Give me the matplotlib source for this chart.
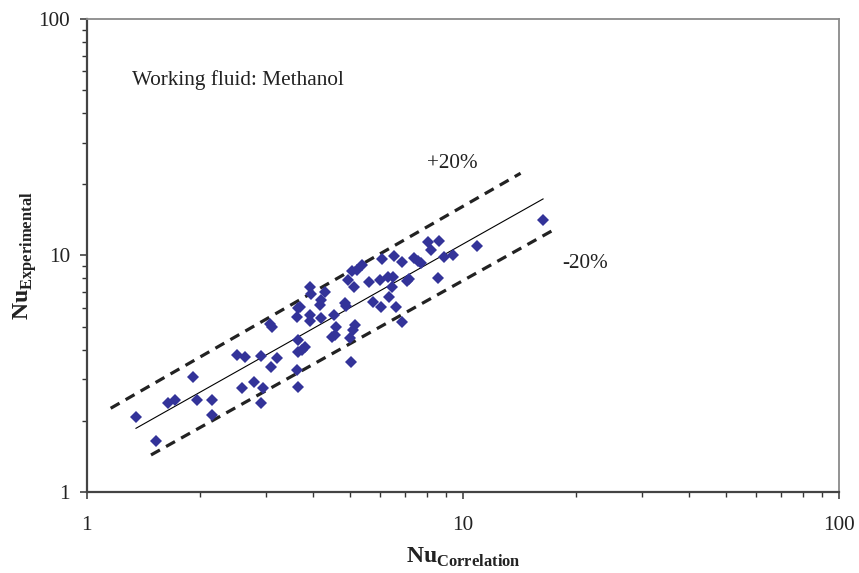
import matplotlib
matplotlib.use("Agg")
import matplotlib.pyplot as plt
from matplotlib.ticker import LogLocator, NullFormatter, FixedFormatter, FixedLocator

plt.rcParams['font.family'] = ['Liberation Serif', 'DejaVu Serif']
plt.rcParams['mathtext.fontset'] = 'custom'
plt.rcParams['mathtext.rm'] = 'Liberation Serif'
plt.rcParams['mathtext.bf'] = 'Liberation Serif:bold'

# Measured points (Nu correlation vs Nu experimental)
nu_corr = [1.351, 1.527, 1.647, 1.716, 1.911, 1.959, 2.151, 2.151, 2.515, 2.628,
           2.580, 2.782, 2.944, 2.903, 2.903, 3.068, 3.100, 3.208, 3.081, 3.613,
           3.687, 3.635, 3.920, 3.944, 4.296, 4.193, 4.167, 3.920, 3.920, 4.193,
           3.635, 3.648, 3.725, 3.813, 3.613, 3.635, 4.547, 4.589, 4.476, 4.567,
           4.856, 4.886, 4.955, 5.131, 5.058, 5.216, 5.377, 5.161, 5.108, 5.007,
           5.038, 5.624, 6.015, 5.754, 6.051, 6.100, 6.316, 6.524, 6.461, 6.363,
           6.633, 6.902, 6.572, 6.902, 7.204, 7.094, 7.428, 7.612, 7.753, 8.091,
           8.217, 8.646, 8.897, 9.384, 10.92, 8.561, 16.33]
nu_exp = [2.082, 1.643, 2.378, 2.449, 3.055, 2.449, 2.449, 2.116, 3.796, 3.734,
          2.753, 2.910, 2.753, 2.378, 3.748, 5.133, 5.000, 3.697, 3.361, 5.512,
          6.075, 5.981, 7.381, 6.855, 6.976, 6.484, 6.177, 5.604, 5.259, 5.415,
          4.392, 3.920, 3.986, 4.092, 3.281, 2.788, 5.593, 4.962, 4.535, 4.611,
          6.280, 6.117, 7.879, 7.338, 8.575, 8.685, 9.117, 5.058, 4.842, 4.457,
          3.545, 7.750, 7.879, 6.360, 6.075, 9.694, 8.072, 8.072, 7.359, 6.696,
          6.039, 5.209, 9.952, 9.387, 7.954, 7.766, 9.712, 9.478, 9.268, 11.40,
          10.50, 11.55, 9.806, 10.08, 10.94, 7.993, 14.10]

# fit line and +/-20% bands (end points)
fit_x = [1.351, 16.33]
fit_y = [1.859, 17.34]
upper_x = [1.157, 14.23]
upper_y = [2.259, 22.26]
lower_x = [1.481, 17.73]
lower_y = [1.434, 13.03]

fig = plt.figure(figsize=(8.59, 5.73), dpi=100)
ax = fig.add_axes([0.1011, 0.1414, 0.8757, 0.8255])

ax.plot(upper_x, upper_y, color='#222222', lw=2.3, linestyle=(0, (3.2, 2.2)), dash_capstyle='butt')
ax.plot(lower_x, lower_y, color='#222222', lw=2.3, linestyle=(0, (3.2, 2.2)), dash_capstyle='butt')
ax.plot(fit_x, fit_y, color='black', lw=0.8)
ax.plot(nu_corr, nu_exp, linestyle='none', marker='D', ms=6.0, color='#333399',
        markeredgewidth=0)

ax.set_xscale('log')
ax.set_yscale('log')
ax.set_xlim(1, 100)
ax.set_ylim(1, 100)

ax.xaxis.set_major_locator(FixedLocator([1, 10, 100]))
ax.yaxis.set_major_locator(FixedLocator([1, 10, 100]))
ax.xaxis.set_major_formatter(FixedFormatter(['1', '10', '100']))
ax.yaxis.set_major_formatter(FixedFormatter(['1', '10', '100']))
ax.xaxis.set_minor_locator(LogLocator(base=10, subs=range(2, 10)))
ax.yaxis.set_minor_locator(LogLocator(base=10, subs=range(2, 10)))
ax.xaxis.set_minor_formatter(NullFormatter())
ax.yaxis.set_minor_formatter(NullFormatter())

ax.tick_params(which='major', direction='out', length=5, width=1.1, labelsize=15.3,
               color='#333333', labelcolor='#222222', pad=12)
ax.tick_params(which='minor', direction='out', length=3.5, width=1.0, color='#333333')
ax.tick_params(axis='y', which='major', pad=7)

for s in ['left', 'bottom']:
    ax.spines[s].set_color('#444444')
    ax.spines[s].set_linewidth(1.6)
for s in ['top', 'right']:
    ax.spines[s].set_color('#8a8a8a')
    ax.spines[s].set_linewidth(1.3)

ax.set_xlabel(r'$\mathbf{Nu}_{\mathbf{Correlation}}$', fontsize=17, labelpad=8, color='#222222')
ax.set_ylabel(r'$\mathbf{Nu}_{\mathbf{Experimental}}$', fontsize=17, color='#222222')
ax.yaxis.set_label_coords(-0.063, 0.5)

ax.text(1.316, 55.2, 'Working fluid: Methanol', fontsize=15.3, va='center', ha='left', color='#222222')
ax.text(8.0, 24.5, '+20%', fontsize=15.3, va='center', ha='left', color='#222222')
ax.text(18.4, 9.27, '-20%', fontsize=15.3, va='center', ha='left', color='#222222')

fig.savefig('out.png', dpi=100)
